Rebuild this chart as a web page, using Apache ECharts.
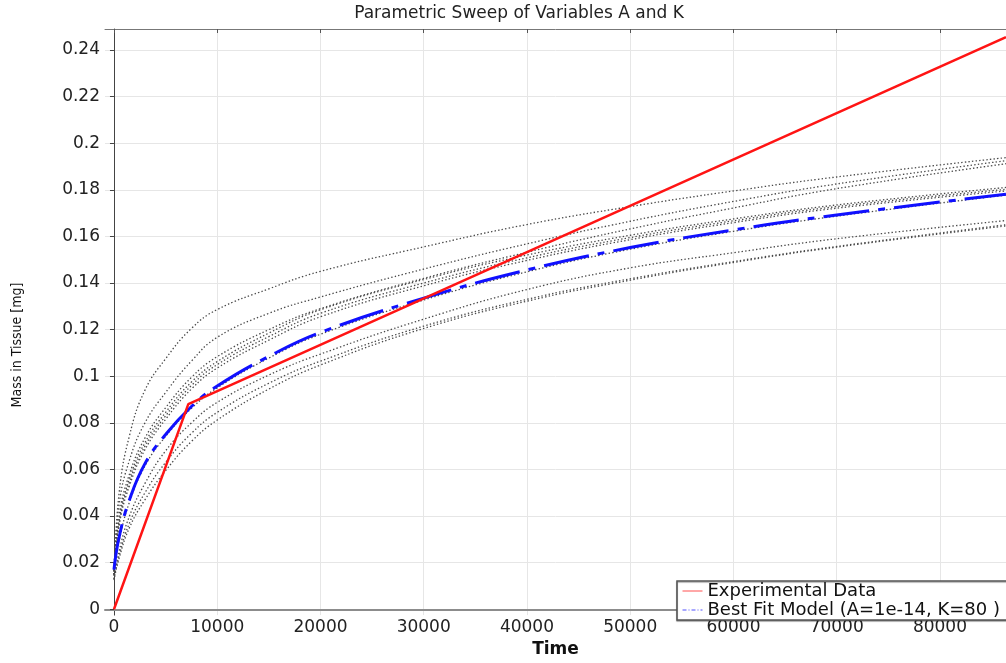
<!DOCTYPE html>
<html>
<head>
<meta charset="utf-8">
<title>Parametric Sweep of Variables A and K</title>
<script src="https://cdn.jsdelivr.net/npm/echarts@6/dist/echarts.min.js"></script>
<style>
    html, body { margin: 0; padding: 0; background: #fff; }
    #chart { width: 1006px; height: 663px; }
</style>
</head>
<body>
<div id="chart"></div>
<script>
/* data */
var xTicks = [0, 10000, 20000, 30000, 40000, 50000, 60000, 70000, 80000];
var yTicks = [0, 0.02, 0.04, 0.06, 0.08, 0.1, 0.12, 0.14, 0.16, 0.18, 0.2, 0.22, 0.24];

var expTime = [0, 7200, 86400];
var expMass = [0, 0.088, 0.2455];

var modelTime = [0, 500, 1500, 3000, 5000, 7500, 10000, 15000, 20000, 30000, 40000, 50000, 60000, 70000, 86400];
var bestFit = [0.017, 0.031, 0.047, 0.0625, 0.075, 0.087, 0.0958, 0.1085, 0.1188, 0.1335, 0.1456, 0.1552, 0.1628, 0.1692, 0.1781];

var sweep1 = [0.015, 0.050, 0.0745, 0.094, 0.1075, 0.1205, 0.1286, 0.1375, 0.1450, 0.1555, 0.1651, 0.1728, 0.1795, 0.1855, 0.1938];
var sweep2 = [0.015, 0.045, 0.064, 0.080, 0.093, 0.1065, 0.1167, 0.1270, 0.1340, 0.1460, 0.1568, 0.1665, 0.1750, 0.1825, 0.1925];
var sweep3 = [0.015, 0.040, 0.058, 0.0735, 0.0865, 0.0995, 0.1084, 0.1200, 0.1290, 0.1420, 0.1532, 0.1632, 0.1722, 0.1805, 0.1912];
var sweep4 = [0.015, 0.038, 0.056, 0.0715, 0.0845, 0.0975, 0.1063, 0.1185, 0.1285, 0.1415, 0.1520, 0.1605, 0.1675, 0.1735, 0.1810];
var sweep5 = [0.0145, 0.037, 0.0545, 0.070, 0.083, 0.096, 0.1050, 0.1170, 0.1270, 0.1400, 0.1508, 0.1595, 0.1667, 0.1728, 0.1802];
var sweep6 = [0.0145, 0.036, 0.053, 0.0685, 0.0815, 0.0945, 0.1035, 0.1155, 0.1255, 0.1388, 0.1497, 0.1586, 0.1659, 0.1721, 0.1795];
var sweep7 = [0.0165, 0.0295, 0.046, 0.0615, 0.0742, 0.0862, 0.0950, 0.1078, 0.1180, 0.1327, 0.1448, 0.1545, 0.1622, 0.1687, 0.1777];
var sweep8 = [0.013, 0.025, 0.040, 0.054, 0.068, 0.080, 0.0888, 0.1005, 0.1095, 0.1245, 0.1372, 0.1465, 0.1530, 0.1590, 0.1668];
var sweep9 = [0.013, 0.023, 0.037, 0.050, 0.063, 0.0755, 0.0845, 0.0970, 0.1065, 0.1215, 0.1330, 0.1418, 0.1492, 0.1557, 0.1650];
var sweep10 = [0.0125, 0.022, 0.035, 0.047, 0.0595, 0.072, 0.0812, 0.0945, 0.1048, 0.1205, 0.1322, 0.1412, 0.1488, 0.1554, 0.1645];

var sweeps = [sweep1, sweep2, sweep3, sweep4, sweep5, sweep6, sweep7, sweep8, sweep9, sweep10];

function pairs(xs, ys) {
    return xs.map(function (x, i) { return [x, ys[i]]; });
}

var font = 'DejaVu Sans';
var chart = echarts.init(document.getElementById('chart'));

var series = sweeps.map(function (s, i) {
    return {
        name: 'sweep ' + (i + 1),
        type: 'line',
        data: pairs(modelTime, s),
        smooth: 0.45,
        symbol: 'none',
        silent: true,
        z: 2,
        lineStyle: { color: '#4a4a4a', width: 1.3, type: [1.4, 2.2] }
    };
});
series.push({
    name: 'Best Fit Model (A=1e-14, K=80 )',
    type: 'line',
    data: pairs(modelTime, bestFit),
    smooth: 0.45,
    symbol: 'none',
    z: 3,
    lineStyle: { color: '#1010ff', width: 3, type: [46, 9, 7, 9] }
});
series.push({
    name: 'Experimental Data',
    type: 'line',
    data: pairs(expTime, expMass),
    symbol: 'none',
    z: 4,
    lineStyle: { color: '#ff1414', width: 2.5 }
});

var option = {
    animation: false,
    backgroundColor: '#fff',
    grid: { left: 105, right: 0, top: 29, bottom: 33, containLabel: false },
    legend: {
        orient: 'vertical',
        left: 677,
        top: 581,
        itemWidth: 20,
        itemHeight: 10,
        itemGap: 1,
        padding: [1, 12, 1, 5],
        borderColor: '#555',
        borderWidth: 1.5,
        backgroundColor: '#fff',
        shadowColor: 'rgba(0,0,0,0.35)',
        shadowOffsetY: 1,
        shadowBlur: 1,
        textStyle: { fontFamily: font, fontSize: 18, color: '#111' },
        data: [
            { name: 'Experimental Data', itemStyle: { opacity: 0 },
              lineStyle: { width: 1, color: '#ff5050' } },
            { name: 'Best Fit Model (A=1e-14, K=80 )', itemStyle: { opacity: 0 },
              lineStyle: { width: 1, type: [4, 2, 1, 2], color: '#5050ff' } }
        ]
    },
    graphic: [
        {
            type: 'text', x: 519, y: 14,
            style: { text: 'Parametric Sweep of Variables A and K', align: 'center', verticalAlign: 'middle',
                     font: '17px "DejaVu Sans"', fill: '#222' }
        },
        {
            type: 'text', x: 17, y: 345, rotation: Math.PI / 2,
            style: { text: 'Mass in Tissue [mg]', align: 'center', verticalAlign: 'middle',
                     font: '14px "Liberation Sans Narrow", "DejaVu Sans Condensed", sans-serif', fill: '#111' }
        }
    ],
    xAxis: [
        {
            type: 'value', min: -870, max: 86400, position: 'bottom',
            name: 'Time', nameLocation: 'middle', nameGap: 22,
            nameTextStyle: { fontFamily: font, fontSize: 17, color: '#111', fontWeight: 'bold' },
            axisLine: { show: true, lineStyle: { color: '#8c8c8c', width: 2 } },
            axisTick: { show: false, customValues: xTicks },
            axisLabel: { customValues: xTicks, formatter: function (v) { return String(v); },
                         fontFamily: font, fontSize: 17, color: '#222', margin: 4 },
            splitLine: { show: true, lineStyle: { color: '#e6e6e6', width: 1 } }
        },
        {
            type: 'value', min: -870, max: 86400, position: 'top',
            axisLine: { show: true, lineStyle: { color: '#777', width: 1 } },
            axisTick: { show: true, inside: true, length: 4, customValues: xTicks, lineStyle: { color: '#555' } },
            axisLabel: { show: false },
            splitLine: { show: false }
        }
    ],
    yAxis: [
        {
            type: 'value', min: -0.0025, max: 0.249,
            axisLine: { show: true, lineStyle: { color: '#444', width: 1 } },
            axisTick: { show: true, length: 4, customValues: yTicks, lineStyle: { color: '#444' } },
            axisLabel: { customValues: yTicks, fontFamily: font, fontSize: 17, color: '#222', margin: 5 },
            splitLine: { show: true, lineStyle: { color: '#e6e6e6', width: 1 } }
        }
    ],
    tooltip: { show: false },
    series: series
};

chart.setOption(option);
</script>
</body>
</html>
